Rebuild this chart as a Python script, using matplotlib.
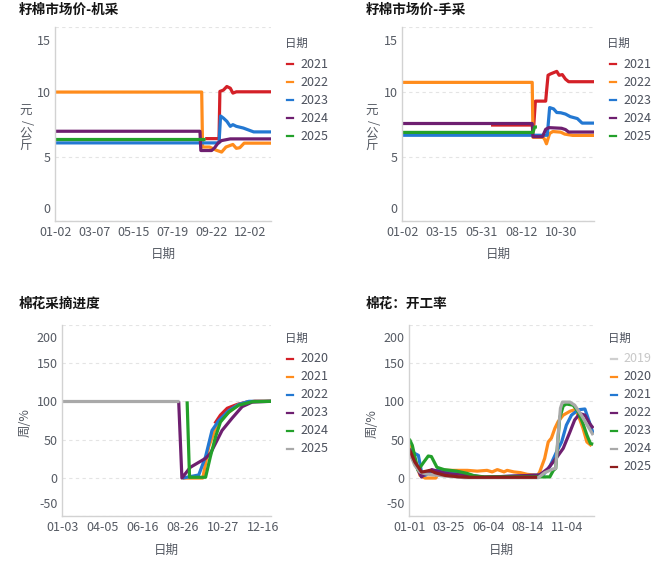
import matplotlib
matplotlib.use("Agg")
import matplotlib.pyplot as plt
from matplotlib.lines import Line2D
import matplotlib.transforms as mtransforms

plt.rcParams['font.family'] = ['Noto Sans CJK SC', 'DejaVu Sans']
plt.rcParams['axes.unicode_minus'] = False

W, H, DPI = 667, 569, 100

# ------------------------------------------------------------------ data
# Chart 1: 籽棉市场价-机采  (x = trading-day index)
c1_title = "籽棉市场价-机采"
c1_ticklabels = ["01-02", "03-07", "05-15", "07-19", "09-22", "12-02"]
c1_step = 45
c1_last = 249
c1_years = ["2021", "2022", "2023", "2024", "2025"]
c1_x = {
    "2021": [173, 189, 190, 194, 198, 202, 205, 209, 249],
    "2022": [0, 169, 170, 178, 186, 192, 197, 201, 205, 209, 213, 218, 249],
    "2023": [0, 189, 190.8, 194, 198, 202, 205, 209, 217, 225, 229, 249],
    "2024": [0, 167, 168, 180.5, 184, 188, 192, 202, 249],
    "2025": [0, 173],
}
c1_y = {
    "2021": [6.4, 6.4, 10.05, 10.15, 10.43, 10.3, 9.92, 10.02, 10.02],
    "2022": [10.0, 10.0, 5.75, 5.75, 5.5, 5.36, 5.75, 5.85, 5.95, 5.65, 5.7, 6.05, 6.05],
    "2023": [6.07, 6.07, 8.15, 7.99, 7.74, 7.35, 7.48, 7.35, 7.22, 7.02, 6.92, 6.92],
    "2024": [6.97, 6.97, 5.48, 5.48, 5.7, 6.07, 6.25, 6.38, 6.38],
    "2025": [6.4, 6.4],
}

# Chart 2: 籽棉市场价-手采
c2_title = "籽棉市场价-手采"
c2_ticklabels = ["01-02", "03-15", "05-31", "08-12", "10-30"]
c2_step = 50
c2_last = 242
c2_years = ["2021", "2022", "2023", "2024", "2025"]
c2_x = {
    "2021": [112, 166, 168, 181, 182, 184, 187, 191, 195, 198, 202, 206, 210, 242],
    "2022": [0, 164, 165, 178, 180, 182, 184, 186, 190, 200, 205, 215, 242],
    "2023": [0, 183, 186, 191, 195, 200, 206, 212, 221, 227, 242],
    "2024": [0, 164, 165, 177, 181, 185, 201, 206, 210, 242],
    "2025": [0, 165, 167, 170],
}
c2_y = {
    "2021": [7.45, 7.45, 9.3, 9.3, 10.0, 11.3, 11.4, 11.5, 11.6, 11.3, 11.35, 11.0, 10.8, 10.8],
    "2022": [10.75, 10.75, 6.5, 6.5, 6.3, 6.0, 6.4, 6.8, 6.95, 6.9, 6.75, 6.65, 6.65],
    "2023": [6.66, 6.66, 8.8, 8.7, 8.42, 8.4, 8.3, 8.1, 7.95, 7.6, 7.6],
    "2024": [7.57, 7.57, 6.55, 6.55, 7.12, 7.25, 7.2, 7.1, 6.91, 6.91],
    "2025": [6.88, 6.88, 7.3, 7.3],
}

# Chart 3: 棉花采摘进度  (x = week index)
c3_title = "棉花采摘进度"
c3_ticklabels = ["01-03", "04-05", "06-16", "08-26", "10-27", "12-16"]
c3_step = 10
c3_last = 52
c3_years = ["2020", "2021", "2022", "2023", "2024", "2025"]
c3_x = {
    "2020": [38, 39.4, 41.1, 43.6, 46, 48, 52],
    "2021": [30, 35, 36.5, 38.6, 41.1, 43.6, 46, 48, 52],
    "2022": [30, 34, 35.7, 37.3, 39, 41.5, 44, 46.5, 52],
    "2023": [29, 29.8, 31.9, 35.7, 36.9, 39.8, 42.3, 44.8, 47.3, 52],
    "2024": [31.1, 31.7, 35.7, 36.9, 38.2, 39.4, 41.5, 44, 47.3, 52],
    "2025": [0, 29],
}
c3_y = {
    "2020": [71, 82, 91, 96, 99, 100, 100],
    "2021": [0, 0, 41, 71, 84, 95, 99, 100, 100],
    "2022": [0, 4, 28, 62, 75, 88, 96, 100, 100],
    "2023": [100, 0, 14, 25.7, 32, 62, 78, 93, 99, 100],
    "2024": [100, 1, 1, 28, 54, 73, 86, 95, 99.5, 100],
    "2025": [100, 100],
}

# Chart 4: 棉花：开工率
c4_title = "棉花：开工率"
c4_ticklabels = ["01-01", "03-25", "06-04", "08-14", "11-04"]
c4_step = 10
c4_last = 46.8
c4_years = ["2019", "2020", "2021", "2022", "2023", "2024", "2025"]
c4_hidden = ["2019"]
c4_x = {
    "2019": [],
    "2020": [0, 1.4, 2.7, 4, 6.7, 7.8, 11.6, 14.7, 17.2, 19.7, 21, 22.3, 24, 24.8, 26.5, 28.2,
             29.9, 31.6, 32.4, 33, 34.3, 35.2, 36, 36.9, 37.7, 39, 40.7, 41.9, 42.8, 44, 45, 46.2],
    "2021": [0, 1.4, 2.3, 3.1, 4, 5.7, 7.3, 9.9, 15.8, 19, 33.9, 35.6, 37.3, 38.6, 39.8, 41.1,
             42.8, 44.5, 45.3, 46.6],
    "2022": [0, 1.9, 3.1, 4.4, 5.7, 7.3, 10, 16, 19, 33, 35.2, 37.3, 39, 40.7, 41.9, 43.2, 44.5,
             45.7, 46.6],
    "2023": [0, 0.76, 2.2, 3.7, 4.8, 5.6, 7, 8.8, 12, 14.7, 16.4, 19, 35.6, 36.5, 37.1, 38.1, 39,
             39.8, 41.5, 42.8, 44, 45, 45.9, 46.6],
    "2024": [0, 1.4, 2.7, 4, 5.7, 9, 14, 32.7, 34.3, 36.5, 37.1, 37.7, 38.3, 38.8, 40.7, 41.9,
             43.6, 45.3, 46.6],
    "2025": [0, 1.4, 3.1, 4.1, 5.2, 6.5, 9, 12.4, 15, 32.4],
}
c4_y = {
    "2019": [],
    "2020": [42.6, 25, 3.5, 0, 0, 10, 10, 10, 9, 10, 8, 11, 8, 10, 8, 7, 4.8, 4, 3, 7.4, 25.6,
             47, 52, 65, 73.5, 82, 87, 89, 82, 65, 47, 42],
    "2021": [38, 32, 29.6, 7.8, 3.5, 8.7, 10, 7, 3.5, 1, 4, 15, 34, 47, 69, 82, 89, 90, 78, 58],
    "2022": [34, 14, 1.3, 7, 11, 8.7, 5.6, 2.6, 1, 4, 12.6, 26.5, 38.7, 60, 75.7, 84, 82, 71, 65],
    "2023": [51, 42.6, 10, 21, 28.7, 28, 14, 11, 9, 6, 3, 1.5, 1.5, 10, 12.6, 78, 94, 96.5, 95,
             86.5, 71, 56, 45, 44],
    "2024": [34, 16.5, 7.8, 5.6, 4.3, 2.6, 0.5, 0.5, 7, 12, 12.6, 56, 91, 99, 99, 95, 82, 67, 56],
    "2025": [38, 21, 7.8, 8.7, 10, 7, 3.5, 1.7, 1, 1],
}

# ------------------------------------------------------------------ styles
COL = {"red": "#d42027", "orange": "#ff8c1c", "blue": "#2378d2", "purple": "#6e1f70",
       "green": "#23a02a", "gray": "#a9a9a9", "darkred": "#8e1d1d", "light": "#cfcfcf"}
c1_colors = [COL["red"], COL["orange"], COL["blue"], COL["purple"], COL["green"]]
c3_colors = [COL["red"], COL["orange"], COL["blue"], COL["purple"], COL["green"], COL["gray"]]
c4_colors = [COL["light"], COL["orange"], COL["blue"], COL["purple"], COL["green"], COL["gray"],
             COL["darkred"]]

TXT = "#4b505c"
TICK = "#555a63"

fig = plt.figure(figsize=(W / DPI, H / DPI), dpi=DPI)
fig.patch.set_facecolor("white")


def fx(px):
    return px / W


def fy(py):
    return 1 - py / H


def add_ax(l, t, r, b):
    return fig.add_axes([fx(l), fy(b), (r - l) / W, (b - t) / H])


def style(ax, yticks, ylim, ticklabels, step, last):
    ax.set_xlim(0, last)
    ax.set_ylim(*ylim)
    for s in ("top", "right"):
        ax.spines[s].set_visible(False)
    for s in ("left", "bottom"):
        ax.spines[s].set_color("#d2d2d2")
        ax.spines[s].set_linewidth(1.0)
        ax.spines[s].set_zorder(5)
    ax.set_yticks(yticks)
    ax.set_xticks([i * step for i in range(len(ticklabels))])
    ax.set_xticklabels(ticklabels)
    ax.tick_params(length=0, labelsize=9, colors=TICK)
    ax.tick_params(axis="y", pad=3.5)
    ax.tick_params(axis="x", pad=3.0)
    ax.yaxis.grid(True, color="#e4e4e4", linewidth=0.8, linestyle=(0, (3, 3)))
    ax.set_axisbelow(True)
    labs = ax.get_yticklabels()
    dn = mtransforms.ScaledTranslation(0, -12.5 / DPI, fig.dpi_scale_trans)
    up = mtransforms.ScaledTranslation(0, 13 / DPI, fig.dpi_scale_trans)
    labs[-1].set_transform(labs[-1].get_transform() + dn)
    labs[0].set_transform(labs[0].get_transform() + up)


def draw_lines(ax, years, xs, ys, colors, hidden=()):
    for yr, c in zip(years, colors):
        if yr in hidden:
            continue
        ax.plot(xs[yr], ys[yr], color=c, lw=2.3, solid_joinstyle="round",
                solid_capstyle="butt", zorder=3)


def legend(x_title, y_title, x_sym, x_txt, y0, years, colors, hidden=()):
    fig.text(fx(x_title), fy(y_title), "日期", fontsize=8.2, color=TXT, ha="left", va="center")
    for i, (yr, c) in enumerate(zip(years, colors)):
        y = y0 + 18 * i
        tc = "#c8c8c8" if yr in hidden else TXT
        fig.add_artist(Line2D([fx(x_sym), fx(x_sym + 6.5)], [fy(y), fy(y)],
                              transform=fig.transFigure, color=c, lw=1.6))
        fig.text(fx(x_txt), fy(y), yr, fontsize=9, color=tc, ha="left", va="center")


def title(x, y, s):
    fig.text(fx(x), fy(y), s, fontsize=9.8, fontweight="bold", color="#151515",
             ha="left", va="center")


def xlabel(xc, y):
    fig.text(fx(xc), fy(y), "日期", fontsize=9, color=TICK, ha="center", va="center")


def vertical_unit(xc, ys, chars):
    for ch, y in zip(chars, ys):
        rot = -90 if ch == "/" else 0
        fig.text(fx(xc), fy(y), ch, fontsize=9, color=TICK, ha="center", va="center",
                 rotation=rot)


# ---------------- chart 1
ax1 = add_ax(55.3, 27.4, 271, 221.4)
draw_lines(ax1, c1_years, c1_x, c1_y, c1_colors)
style(ax1, [0, 5, 10, 15], (0, 15), c1_ticklabels, c1_step, c1_last)
title(19, 9.5, c1_title)
xlabel(163, 254)
vertical_unit(26, [111, 122, 133.5, 145.5], list("元/公斤"))
legend(285, 43.3, 286.7, 300, 64.3, c1_years, c1_colors)

# ---------------- chart 2
ax2 = add_ax(402.3, 27.4, 594, 221.4)
draw_lines(ax2, c2_years, c2_x, c2_y, c1_colors)
style(ax2, [0, 5, 10, 15], (0, 15), c2_ticklabels, c2_step, c2_last)
title(366, 9.5, c2_title)
xlabel(498, 254)
vertical_unit(372, [111, 122, 133.5, 145.5], list("元/公斤"))
legend(607.3, 43.3, 609.7, 623.3, 64.3, c2_years, c1_colors)

# ---------------- chart 3
ax3 = add_ax(62.3, 324.6, 271, 516.4)
draw_lines(ax3, c3_years, c3_x, c3_y, c3_colors)
style(ax3, [-50, 0, 50, 100, 150, 200], (-50, 200), c3_ticklabels, c3_step, c3_last)
title(19, 304, c3_title)
xlabel(166.5, 550)
fig.text(fx(25), fy(423), "周/%", fontsize=9, color=TICK, ha="center", va="center", rotation=90)
legend(285, 338.3, 286.7, 300, 359, c3_years, c3_colors)

# ---------------- chart 4
ax4 = add_ax(409.3, 324.6, 594, 516.4)
draw_lines(ax4, c4_years, c4_x, c4_y, c4_colors, hidden=c4_hidden)
style(ax4, [-50, 0, 50, 100, 150, 200], (-50, 200), c4_ticklabels, c4_step, c4_last)
title(366, 304, c4_title)
xlabel(501, 550)
fig.text(fx(372), fy(424), "周/%", fontsize=9, color=TICK, ha="center", va="center", rotation=90)
legend(608, 338.3, 610.7, 623.3, 359, c4_years, c4_colors, hidden=c4_hidden)

fig.savefig("out.png", dpi=DPI, facecolor="white")
